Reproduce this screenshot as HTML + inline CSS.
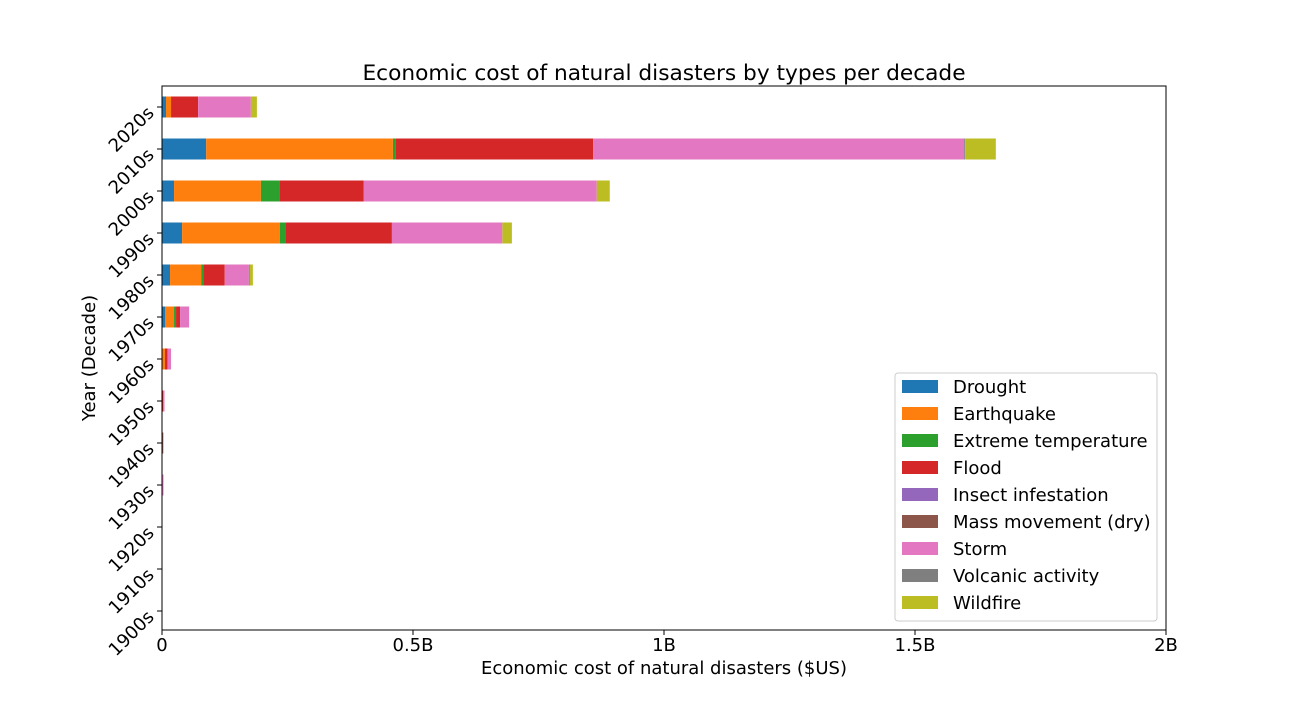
<!DOCTYPE html>
<html><head><meta charset="utf-8"><style>
body{margin:0;background:#fff;}
text{font-family:"DejaVu Sans","Liberation Sans",sans-serif;fill:#000;}
</style></head><body>
<svg id="chart" width="1296" height="720" xmlns="http://www.w3.org/2000/svg">
<rect x="0" y="0" width="1296" height="720" fill="#fff"/>
<text x="664" y="80" font-size="21.7" text-anchor="middle">Economic cost of natural disasters by types per decade</text>
<g id="bars"></g>
<rect x="162" y="86" width="1004" height="544" fill="none" stroke="#000" stroke-width="1"/>
<g id="xaxis"></g>
<g id="yaxis"></g>
<text x="664" y="674" font-size="18" text-anchor="middle">Economic cost of natural disasters ($US)</text>
<text transform="translate(95,358) rotate(-90)" font-size="18" text-anchor="middle">Year (Decade)</text>
<g id="legend"></g>
</svg>
<script>
const decades = ["1900s","1910s","1920s","1930s","1940s","1950s","1960s","1970s","1980s","1990s","2000s","2010s","2020s"];
const types = ["Drought","Earthquake","Extreme temperature","Flood","Insect infestation","Mass movement (dry)","Storm","Volcanic activity","Wildfire"];
const colors = ["#1f77b4","#ff7f0e","#2ca02c","#d62728","#9467bd","#8c564b","#e377c2","#7f7f7f","#bcbd22"];
// values in billions, per type, indexed by decade
const drought     = [0,0,0,0,0,0,0,0.006,0.016,0.040,0.024,0.088,0.008];
const earthquake  = [0,0,0,0,0,0,0.006,0.018,0.062,0.195,0.173,0.372,0.010];
const extremeTemp = [0,0,0,0,0,0,0,0.004,0.004,0.012,0.038,0.006,0];
const flood       = [0.001,0,0.001,0,0,0.002,0.004,0.008,0.043,0.211,0.167,0.393,0.054];
const insect      = [0,0,0,0,0,0,0,0,0,0,0,0,0];
const massMove    = [0,0,0,0.001,0.002,0,0.001,0,0,0,0,0,0];
const storm       = [0,0,0,0.002,0.001,0.003,0.007,0.018,0.048,0.220,0.464,0.739,0.105];
const volcanic    = [0,0,0,0,0,0,0,0,0.002,0,0,0.002,0];
const wildfire    = [0,0,0,0,0,0,0,0,0.006,0.019,0.026,0.061,0.012];
const series = [drought,earthquake,extremeTemp,flood,insect,massMove,storm,volcanic,wildfire];
const xTicks = [0,0.5,1,1.5,2];
const xTickLabels = ["0","0.5B","1B","1.5B","2B"];

const NS="http://www.w3.org/2000/svg";
const X0=162, X1=1166, Y0=86, Y1=630;
const xScale = v => X0 + v/2*(X1-X0);
const yScale = i => 611 - i*42;
const barH = 21;
function mk(tag, attrs, parent){const e=document.createElementNS(NS,tag);for(const k in attrs)e.setAttribute(k,attrs[k]);parent.appendChild(e);return e;}

const gb=document.getElementById('bars');
decades.forEach((d,i)=>{
  let acc=0;
  series.forEach((s,k)=>{
    const v=s[i];
    if(v>0){
      const r=mk('rect',{x:xScale(acc),y:yScale(i)-barH/2,width:xScale(acc+v)-xScale(acc),height:barH,fill:colors[k]},gb);
      
      
    }
    acc+=v;
  });
});

const gx=document.getElementById('xaxis');
xTicks.forEach((t,j)=>{
  const l=mk('line',{x1:xScale(t),x2:xScale(t),y1:Y1,y2:Y1+5,stroke:'#000'},gx);
  
  
  const tx=mk('text',{x:xScale(t),y:651,'font-size':18,'text-anchor':'middle'},gx);
  tx.textContent=xTickLabels[j];
  
  
});
const gy=document.getElementById('yaxis');
decades.forEach((d,i)=>{
  const y=yScale(i);
  const l=mk('line',{x1:X0-5,x2:X0,y1:y,y2:y,stroke:'#000'},gy);
  
  
  const tx=mk('text',{transform:`translate(155,${y+7}) rotate(-45)`,'font-size':18,'text-anchor':'end'},gy);
  tx.textContent=d;
  
  
});

const gl=document.getElementById('legend');
const box=mk('rect',{x:895,y:373,width:262,height:248,rx:3,fill:'#fff',stroke:'#ccc'},gl);


types.forEach((t,k)=>{
  const y=387+k*27;
  const p=mk('rect',{x:902,y:y-7,width:36,height:13,fill:colors[k]},gl);
  
  
  const tx=mk('text',{x:953,y:y+6,'font-size':18},gl);
  tx.textContent=t;
  
  
});
</script>
</body></html>
